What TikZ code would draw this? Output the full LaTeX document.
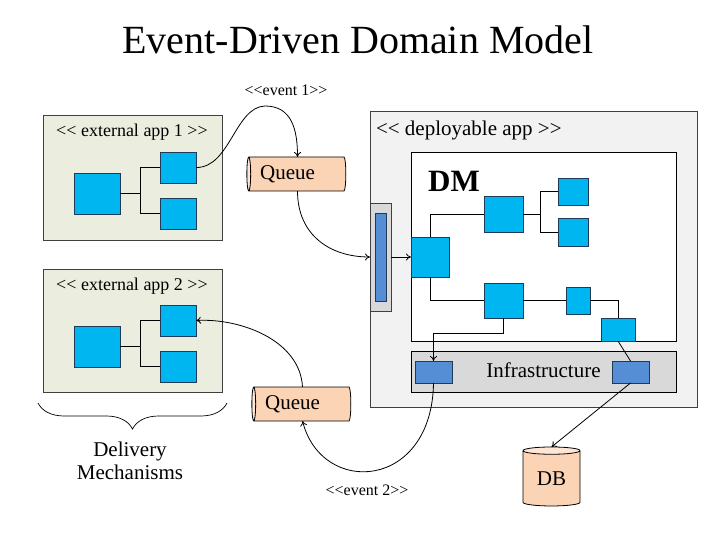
\documentclass[tikz,border=0pt]{standalone}
\usepackage{fontspec}
\setmainfont{Liberation Serif}[Ligatures=TeXOff]
\usetikzlibrary{shapes.geometric,arrows.meta,decorations.pathreplacing}
\definecolor{appfill}{HTML}{EBEEDF}
\definecolor{appline}{HTML}{404040}
\definecolor{cyanbox}{HTML}{00B6F0}
\definecolor{cyanline}{HTML}{1F3B57}
\definecolor{darkblue}{HTML}{558ED5}
\definecolor{depfill}{HTML}{F2F2F2}
\definecolor{infrafill}{HTML}{D9D9D9}
\definecolor{peach}{HTML}{FBD3B5}
\definecolor{peachend}{HTML}{FDE6D6}
\begin{document}
\begin{tikzpicture}[x=1pt,y=-1pt,
  every node/.style={inner sep=0pt, outer sep=0pt},
  appbox/.style={draw=appline, fill=appfill, line width=1pt},
  sq/.style={draw=cyanline, fill=cyanbox, line width=0.8pt},
  dsq/.style={draw=cyanline, fill=darkblue, line width=0.8pt},
  wire/.style={draw=black, line width=0.8pt},
  arr/.style={draw=black, line width=0.8pt, -{To[length=5pt,width=7pt]}},
  queue/.style={cylinder, shape border rotate=180, draw=black, line width=0.8pt,
     cylinder uses custom fill, cylinder body fill=peach, cylinder end fill=peachend,
     aspect=0.22, minimum height=99pt, minimum width=34pt, font=\fontsize{21}{24}\selectfont,
     label={[font=\fontsize{21}{24}\selectfont, xshift=-10pt]center:Queue}},
  lbl/.style={font=\fontsize{18}{21}\selectfont},
  evlbl/.style={font=\fontsize{16}{18}\selectfont},
  big/.style={font=\fontsize{21}{24}\selectfont}
]
\useasboundingbox (0,0) rectangle (720,540);

% title
\node[font=\fontsize{40}{46}\selectfont] (title) at (358,40) {Event-Driven Domain Model};

% external app 1
\node[appbox, minimum width=179pt, minimum height=124pt] (app1) at (132.5,178) {};
\node[lbl] (app1l) at (132,132) {<< external app 1 >>};
\node[sq, minimum width=46pt, minimum height=41pt] (a1big) at (97,193.5) {};
\node[sq, minimum width=36pt, minimum height=31pt] (a1st) at (178,167.5) {};
\node[sq, minimum width=36pt, minimum height=31pt] (a1sb) at (178,213.5) {};
\draw[wire] (a1big.east) -- ++(20,0) coordinate (j1);
\draw[wire] (a1st.west) -| (j1);
\draw[wire] (a1sb.west) -| (j1);

% external app 2
\node[appbox, minimum width=179pt, minimum height=123pt] (app2) at (132.5,330.5) {};
\node[lbl] (app2l) at (132,286) {<< external app 2 >>};
\node[sq, minimum width=46pt, minimum height=41pt] (a2big) at (97,346.5) {};
\node[sq, minimum width=36pt, minimum height=31pt] (a2st) at (178,320.5) {};
\node[sq, minimum width=36pt, minimum height=31pt] (a2sb) at (178,366.5) {};
\draw[wire] (a2big.east) -- ++(20,0) coordinate (j2);
\draw[wire] (a2st.west) -| (j2);
\draw[wire] (a2sb.west) -| (j2);

% brace
\draw[line width=0.7pt, decorate, decoration={brace, amplitude=26pt, aspect=0.5}] (227,403) -- (38,403);
\node[big, align=center] (deliv) at (130,461) {Delivery\\[-1pt]Mechanisms};

% queues
\node[queue] (q1) at (297.5,174) {\phantom{Queue}};
\node[queue] (q2) at (302.5,404) {\phantom{Queue}};

% deployable app
\node[draw=appline, fill=depfill, line width=1pt, minimum width=327pt, minimum height=295pt] (dep) at (533.5,259.5) {};
\node[big, anchor=west] (depl) at (376,130) {<< deployable app >>};
\node[draw=black, fill=white, line width=0.9pt, minimum width=265pt, minimum height=189pt] (dm) at (543.5,246.5) {};
\node[font=\fontsize{31}{34}\selectfont\bfseries] (dml) at (454,181) {DM};
\node[draw=black, fill=infrafill, line width=0.9pt, minimum width=265pt, minimum height=41pt] (infra) at (543.5,371.5) {};
\node[big] (infral) at (543.5,370) {Infrastructure};
\node[dsq, minimum width=37pt, minimum height=22pt] (il) at (433.5,372) {};
\node[dsq, minimum width=37pt, minimum height=22pt] (ir) at (630.5,372) {};

% adapter
\node[draw=appline, fill=infrafill, line width=0.9pt, minimum width=21pt, minimum height=108pt] (ad) at (380.5,257) {};
\node[dsq, minimum width=11pt, minimum height=88pt] (adi) at (380.5,257) {};

% domain model boxes
\node[sq, minimum width=38pt, minimum height=40pt] (A) at (430,257) {};
\node[sq, minimum width=39pt, minimum height=36pt] (B) at (503.5,214) {};
\node[sq, minimum width=30pt, minimum height=27pt] (C1) at (573,191.5) {};
\node[sq, minimum width=30pt, minimum height=28pt] (C2) at (573,232) {};
\node[sq, minimum width=39pt, minimum height=35pt] (D) at (503.5,300.5) {};
\node[sq, minimum width=24pt, minimum height=27pt] (E) at (578,300.5) {};
\node[sq, minimum width=34pt, minimum height=23pt] (F) at (618,329.5) {};

\draw[wire] (A.north) |- (B.west);
\draw[wire] (B.east) -- ++(17,0) coordinate (jb);
\draw[wire] (C1.west) -| (jb);
\draw[wire] (C2.west) -| (jb);
\draw[wire] (A.south) |- (D.west);
\draw[wire] (D.east) -- (E.west);
\draw[wire] (E.east) -| (F.north);
\draw[arr] (D.south) -- ++(0,15) -| (il.north);
\draw[wire] (F.south) -- (ir.north);
\draw[arr] (ad.east) -- (A.west);

% DB
\node[cylinder, shape border rotate=90, draw=black, line width=0.8pt,
     cylinder uses custom fill, cylinder body fill=peach, cylinder end fill=peachend,
     aspect=0.25, minimum height=59pt, minimum width=57pt, big] (db) at (551.5,478.5) {\raisebox{-3pt}{DB}};
\draw[arr] (ir.south) -- (db.north);

% event flows
\draw[arr] (a1st.east) .. controls (230,168) and (235,107) .. (265,106)
           .. controls (292,106) and (297.5,130) .. (q1.north);
\node[evlbl] (ev1) at (286,90) {<<event 1>>};
\draw[arr] (q1.south) .. controls (297.5,235) and (330,257) .. (ad.west);
\draw[arr] (il.south) .. controls (432,490) and (322,497) .. (q2.south);
\node[evlbl] (ev2) at (367,490) {<<event 2>>};
\draw[arr] (q2.north) .. controls (300,340) and (240,318) .. (a2st.east);
\end{tikzpicture}
\end{document}
